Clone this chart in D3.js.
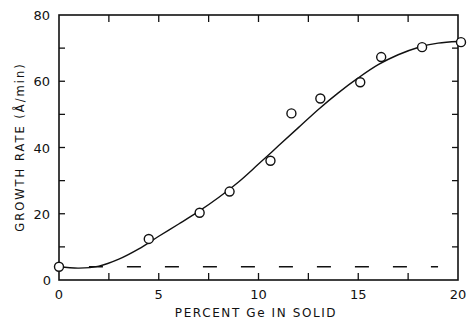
<!DOCTYPE html>
<html><head><meta charset="utf-8">
<script src="https://cdn.jsdelivr.net/npm/d3@7"></script>
<style>body{margin:0;background:#fff}svg{display:block}text{font-family:"DejaVu Sans",sans-serif;fill:#111}</style>
</head><body><svg id="c" width="467" height="327"></svg>
<script>
const pointX = [0, 4.5, 7.05, 8.55, 10.6, 11.65, 13.1, 15.1, 16.15, 18.2, 20.15];
const pointY = [4, 12.4, 20.3, 26.7, 36, 50.3, 54.8, 59.7, 67.3, 70.3, 71.8];
const curveX = [0, 1, 2, 3, 4, 5, 6, 7, 8, 9, 10, 11, 12, 13, 14, 15, 16, 17, 18, 19, 20];
const curveY = [4, 3.6, 4.2, 6.3, 9.4, 13.2, 16.9, 20.7, 24.9, 29.6, 35, 40.5, 46, 51.5, 56.5, 61, 65, 68, 70.2, 71.5, 72];
const baseline = [[1.5, 4], [19, 4]];
const xTickLabels = [0, 5, 10, 15, 20];
const yTickLabels = [0, 20, 40, 60, 80];
const xMinor = [0, 2.5, 5, 7.5, 10, 12.5, 15, 17.5, 20];
const yMinor = [10, 20, 30, 40, 50, 60, 70];

const svg = d3.select("#c");
const x = d3.scaleLinear().domain([0, 20]).range([59, 458]);
const y = d3.scaleLinear().domain([0, 80]).range([280, 15]);

// frame
const g = svg.append("g").attr("stroke", "#111").attr("stroke-width", 1.6).attr("fill", "none");
g.append("rect").attr("x", x(0)).attr("y", y(80)).attr("width", x(20) - x(0)).attr("height", y(0) - y(80));

// ticks
const tk = svg.append("g").attr("stroke", "#111").attr("stroke-width", 1.3);
xMinor.slice(1, -1).forEach(v => {
  tk.append("line").attr("x1", x(v)).attr("x2", x(v)).attr("y1", y(0)).attr("y2", y(0) - 7);
  tk.append("line").attr("x1", x(v)).attr("x2", x(v)).attr("y1", y(80)).attr("y2", y(80) + 7);
});
yMinor.forEach(v => {
  tk.append("line").attr("x1", x(0)).attr("x2", x(0) + 6).attr("y1", y(v)).attr("y2", y(v));
  tk.append("line").attr("x1", x(20)).attr("x2", x(20) - 6).attr("y1", y(v)).attr("y2", y(v));
});

// tick labels
svg.append("g").selectAll("text").data(xTickLabels).join("text")
  .attr("x", d => x(d)).attr("y", 299).attr("text-anchor", "middle")
  .attr("font-size", 13).text(d => d);
svg.append("g").selectAll("text").data(yTickLabels).join("text")
  .attr("x", d => d === 0 ? 51 : 50).attr("y", d => y(d) + 5).attr("text-anchor", "end")
  .attr("font-size", 13).text(d => d);

// axis titles
svg.append("text").attr("x", 256).attr("y", 317).attr("text-anchor", "middle")
  .attr("font-size", 12).attr("letter-spacing", 1.6).text("PERCENT Ge IN SOLID");
svg.append("text").attr("transform", "translate(24,147) rotate(-90)").attr("text-anchor", "middle")
  .attr("font-size", 11.5).attr("letter-spacing", 2).text("GROWTH RATE (Å/min)");

// dashed baseline
svg.append("path").datum(baseline)
  .attr("d", d3.line().x(d => x(d[0])).y(d => y(d[1])))
  .attr("stroke", "#111").attr("stroke-width", 1.3).attr("stroke-dasharray", "14,24").attr("fill", "none");

// fitted curve
const cdata = curveX.map((v, i) => [v, curveY[i]]);
svg.append("path").datum(cdata)
  .attr("d", d3.line().x(d => x(d[0])).y(d => y(d[1])).curve(d3.curveCatmullRom))
  .attr("stroke", "#111").attr("stroke-width", 1.4).attr("fill", "none");

// data points
svg.append("g").selectAll("circle").data(pointX.map((v, i) => [v, pointY[i]])).join("circle")
  .attr("cx", d => x(d[0])).attr("cy", d => y(d[1])).attr("r", 4.5)
  .attr("fill", "#fff").attr("stroke", "#111").attr("stroke-width", 1.4);
</script></body></html>
